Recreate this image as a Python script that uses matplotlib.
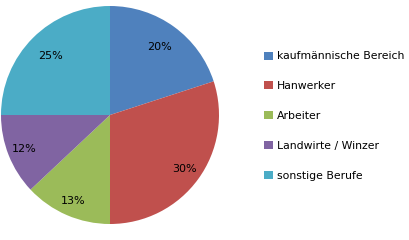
import numpy as np
import matplotlib.pyplot as plt
from matplotlib.patches import Patch

labels = ['kaufmännische Bereich', 'Hanwerker', 'Arbeiter', 'Landwirte / Winzer', 'sonstige Berufe']
shares = [20, 30, 13, 12, 25]
colors = ['#4F81BD', '#C0504D', '#9BBB59', '#8064A2', '#4BACC6']

W, H = 409, 240
fig = plt.figure(figsize=(W / 100, H / 100), dpi=100)

# pie axes: centre around (110, 115) px, radius ~109 px
cx, cy, r = 110, 115, 109
ax = fig.add_axes([(cx - r) / W, (H - cy - r) / H, 2 * r / W, 2 * r / H])
wedges, texts, autotexts = ax.pie(
    shares, colors=colors, startangle=90, counterclock=False,
    autopct='%1.0f%%', pctdistance=0.82, radius=1,
    textprops={'fontsize': 8, 'color': 'black'},
    wedgeprops={'linewidth': 0})

# label distances differ a little per slice (upper labels sit closer in)
label_dist = [0.77, 0.85, 0.86, 0.85, 0.77]
for w, t, d in zip(wedges, autotexts, label_dist):
    ang = np.deg2rad((w.theta1 + w.theta2) / 2)
    t.set_position((d * np.cos(ang), d * np.sin(ang)))

ax.set_xlim(-1, 1)
ax.set_ylim(-1, 1)
ax.axis('off')

handles = [Patch(facecolor=c, edgecolor='none') for c in colors]
fig.legend(handles, labels, loc='upper left', bbox_to_anchor=(259 / W, 1 - 46 / H),
           frameon=False, fontsize=7.8, handlelength=0.75, handleheight=0.75,
           handletextpad=0.4, labelspacing=1.83, borderpad=0)

fig.savefig('out.png', dpi=100)
